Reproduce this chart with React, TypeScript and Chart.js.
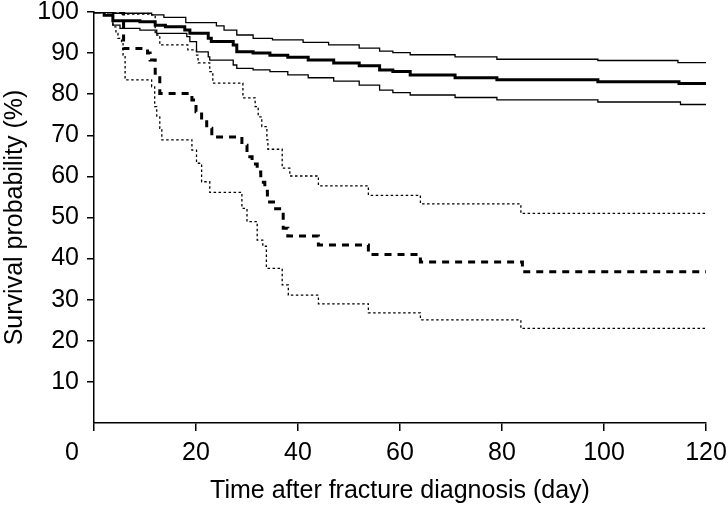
import { useEffect, useRef } from 'react';
import { Chart, registerables } from 'chart.js';

Chart.register(...registerables);

const FONT = '"Liberation Sans", Arial, Helvetica, sans-serif';
const FONT_SIZE = 25;

// X axis ticks (days) and Y axis ticks (%)
const xTicks = [0, 20, 40, 60, 80, 100, 120];
const yTicks = [0, 10, 20, 30, 40, 50, 60, 70, 80, 90, 100];

// Group 1 (solid): estimate and 95% CI
const solidEstDays = [0, 2, 3.7, 9, 12, 14, 17.8, 18.8, 22.4, 23, 27.3, 28, 31.2, 34.5, 38, 42, 47, 52, 56, 58.6, 62, 70.8, 79, 98.8, 114.7, 120];
const solidEstVals = [100, 99.2, 97.9, 97.6, 96.8, 96.4, 95.6, 94.8, 93.6, 92.8, 92.0, 90.3, 90.0, 89.5, 89.0, 88.3, 87.6, 86.9, 85.9, 85.5, 84.7, 84.0, 83.5, 83.0, 82.6, 82.6];

const solidUpDays = [0, 3.7, 11.3, 13.7, 18, 24, 25.5, 28, 31.2, 35, 41, 46, 52, 56, 58.6, 62, 70.8, 79, 98.8, 114.5, 120];
const solidUpVals = [100, 99.7, 99.3, 98.7, 97.4, 96.6, 95.6, 94.4, 93.6, 93.2, 92.6, 92.0, 91.2, 90.5, 90.1, 89.6, 89.1, 88.5, 88.2, 87.7, 87.7];

const solidLoDays = [0, 3.7, 5.1, 9, 12.3, 18.2, 18.8, 20.1, 22.4, 22.7, 27.3, 28, 31.2, 34.5, 38, 42, 47, 52, 56, 58.6, 62, 70.8, 79, 98.8, 115, 120];
const solidLoVals = [100, 96.8, 96.0, 95.6, 94.8, 94.0, 92.8, 90.3, 89.1, 88.3, 87.1, 86.3, 85.9, 85.5, 84.7, 84.0, 83.2, 82.2, 81.0, 80.4, 79.8, 79.2, 78.6, 78.1, 77.5, 77.5];

// Group 2 (dashed): estimate and 95% CI (dotted)
const dashEstDays = [0, 5.8, 10.5, 11, 12, 12.9, 19.2, 20, 21.1, 22.1, 23.1, 29, 30, 31, 32, 32.7, 33.5, 34, 35.2, 37.1, 38, 44, 53.8, 64, 84, 120];
const dashEstVals = [100, 91.1, 90.0, 88.3, 85.1, 80.2, 78.6, 75.7, 73.7, 71.7, 69.6, 67.6, 64.8, 63.0, 61.1, 58.6, 56.4, 53.8, 52.1, 47.4, 45.5, 43.3, 41.0, 39.2, 36.8, 36.8];

const dotUpDays = [0, 5.5, 11.3, 12, 12.9, 18.4, 20.1, 20.4, 22.7, 23.3, 29.2, 31.6, 32.2, 32.9, 33.9, 34.1, 36.9, 38.4, 44, 53.8, 64, 83.7, 120];
const dotUpVals = [100, 99.5, 99.3, 94.4, 92.0, 90.8, 89.5, 87.6, 85.5, 82.7, 79.1, 77.0, 74.5, 72.1, 68.9, 66.6, 62.0, 60.1, 57.7, 55.4, 53.3, 51.0, 51.0];

const dotLoDays = [0, 3.7, 4.3, 4.7, 5.4, 5.7, 6.1, 11.3, 11.9, 12.3, 12.9, 13.3, 19.2, 20.1, 21.1, 22.7, 29, 30, 32, 33.1, 33.8, 36.9, 38.1, 44, 53.8, 64, 83.7, 120];
const dotLoVals = [100, 96.4, 94.8, 93.6, 92.8, 89.5, 83.5, 81.8, 77.0, 74.5, 71.7, 68.9, 66.4, 63.2, 58.7, 56.1, 52.2, 49.0, 44.5, 43.0, 37.6, 33.6, 31.1, 29.0, 26.8, 25.1, 23.0, 23.0];

const xTitle = 'Time after fracture diagnosis (day)';
const yTitle = 'Survival probability (%)';
const originText = '0';

const X_TICK_LEN = 8;
const X_TICK_PAD = 7;
const Y_TICK_LEN = 7;
const Y_TICK_PAD = 8;

const pts = (xs: number[], ys: number[]) => xs.map((x, i) => ({ x, y: ys[i] }));

export default function App() {
  const ref = useRef<HTMLCanvasElement | null>(null);

  useEffect(() => {
    if (!ref.current) return;
    const originLabel = {
      id: 'originLabel',
      afterDraw(chart: any) {
        const { ctx } = chart;
        const xs = chart.scales.x;
        const ys = chart.scales.y;
        ctx.save();
        ctx.font = `${FONT_SIZE}px ${FONT}`;
        ctx.fillStyle = '#000';
        ctx.textAlign = 'right';
        ctx.textBaseline = 'middle';
        ctx.fillText(originText, ys.right - Y_TICK_LEN - Y_TICK_PAD, xs.top + X_TICK_LEN + X_TICK_PAD + (FONT_SIZE * 1.2) / 2);
        ctx.restore();
      },
    };

    const base = { pointRadius: 0, pointHoverRadius: 0, stepped: 'before' as const, fill: false, borderColor: '#000', tension: 0 };

    const chart = new Chart(ref.current, {
      type: 'line',
      data: {
        datasets: [
          { ...base, label: 'Upper CI 1', data: pts(solidUpDays, solidUpVals), borderWidth: 1.3 },
          { ...base, label: 'Estimate 1', data: pts(solidEstDays, solidEstVals), borderWidth: 3 },
          { ...base, label: 'Lower CI 1', data: pts(solidLoDays, solidLoVals), borderWidth: 1.3 },
          { ...base, label: 'Upper CI 2', data: pts(dotUpDays, dotUpVals), borderWidth: 1.3, borderDash: [2.5, 2.5] },
          { ...base, label: 'Estimate 2', data: pts(dashEstDays, dashEstVals), borderWidth: 3, borderDash: [7, 6] },
          { ...base, label: 'Lower CI 2', data: pts(dotLoDays, dotLoVals), borderWidth: 1.3, borderDash: [2.5, 2.5] },
        ],
      },
      options: {
        responsive: false,
        animation: false,
        events: [],
        layout: { padding: { left: 0, right: 0, top: 12, bottom: 0 } },
        plugins: { legend: { display: false }, tooltip: { enabled: false } },
        scales: {
          x: {
            type: 'linear',
            min: xTicks[0],
            max: xTicks[xTicks.length - 1],
            afterBuildTicks: (scale: any) => { scale.ticks = xTicks.map((v) => ({ value: v })); },
            afterFit: (scale: any) => {
              scale.height = 84;
              scale.paddingLeft = 0;
              scale.paddingRight = 22;
            },
            ticks: {
              callback: (v: any) => (v === 0 ? '' : String(v)),
              font: { family: FONT, size: FONT_SIZE },
              color: '#000',
              padding: X_TICK_PAD,
              maxRotation: 0,
              autoSkip: false,
            },
            grid: { drawOnChartArea: false, drawTicks: true, tickLength: X_TICK_LEN, color: '#000', tickWidth: 1.5, lineWidth: 1.5 },
            border: { display: true, color: '#000', width: 1.5 },
            title: { display: true, text: xTitle, font: { family: FONT, size: FONT_SIZE }, color: '#000', padding: { top: 2, bottom: 1 } },
          },
          y: {
            type: 'linear',
            min: yTicks[0],
            max: yTicks[yTicks.length - 1],
            afterBuildTicks: (scale: any) => { scale.ticks = yTicks.map((v) => ({ value: v })); },
            afterFit: (scale: any) => {
              scale.width = 94;
              scale.paddingTop = 0;
              scale.paddingBottom = 0;
            },
            ticks: {
              callback: (v: any) => (v === 0 ? '' : String(v)),
              font: { family: FONT, size: FONT_SIZE },
              color: '#000',
              padding: Y_TICK_PAD,
              autoSkip: false,
            },
            grid: {
              drawOnChartArea: false,
              drawTicks: true,
              tickLength: Y_TICK_LEN,
              color: (c: any) => (c.tick && c.tick.value === 0 ? 'rgba(0,0,0,0)' : '#000'),
              tickWidth: 1.5,
              lineWidth: 1.5,
            },
            border: { display: true, color: '#000', width: 1.5 },
            title: { display: true, text: yTitle, font: { family: FONT, size: FONT_SIZE }, color: '#000', padding: { top: 0, bottom: 2 } },
          },
        },
      },
      plugins: [originLabel],
    });
    return () => chart.destroy();
  }, []);

  return (
    <div style={{ position: 'fixed', left: 0, top: 0, width: 728, height: 507, background: '#fff' }}>
      <canvas ref={ref} width={728} height={507} style={{ display: 'block' }} />
    </div>
  );
}
